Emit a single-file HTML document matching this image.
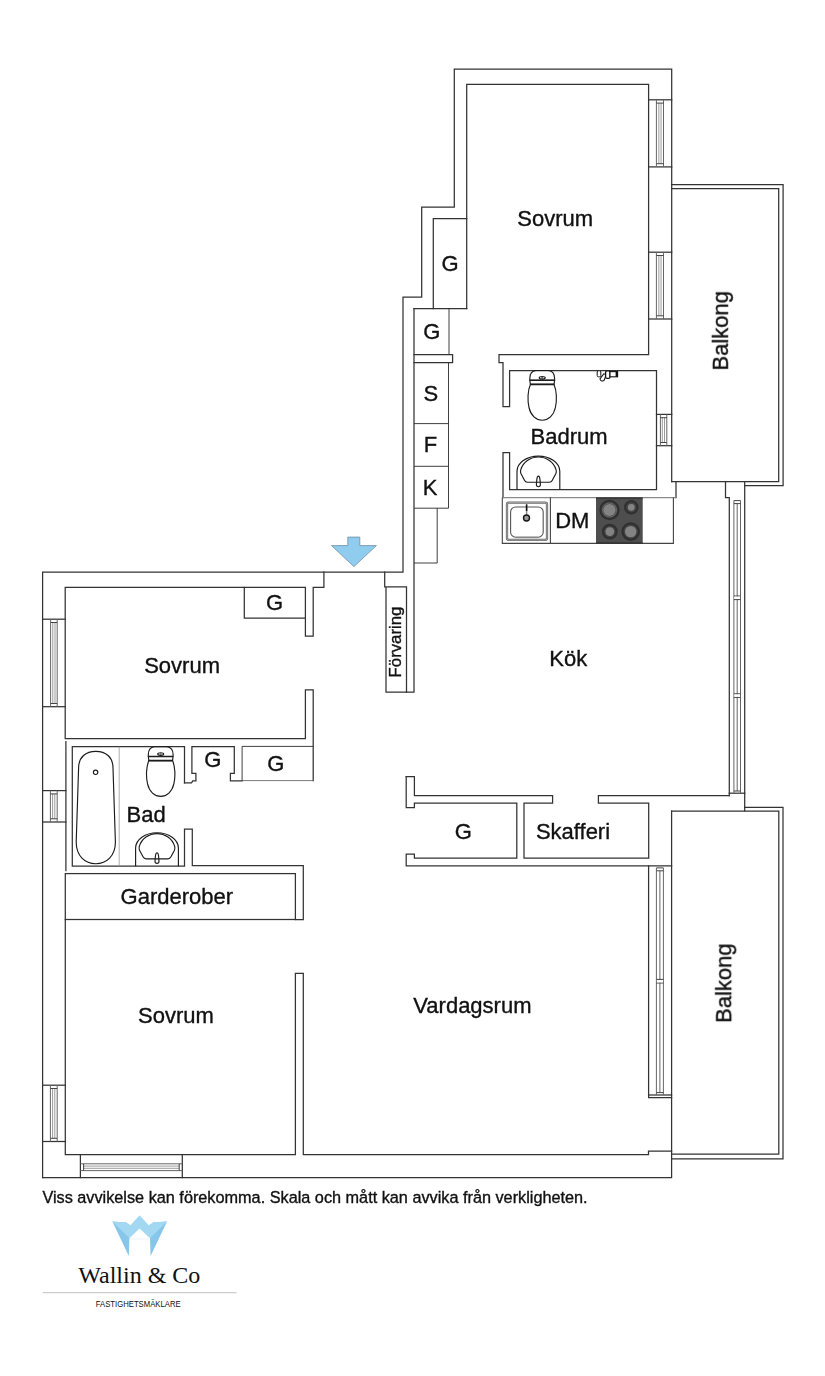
<!DOCTYPE html>
<html><head><meta charset="utf-8"><title>Planritning</title>
<style>
html,body{margin:0;padding:0;background:#fff;}
body{width:825px;height:1376px;overflow:hidden;font-family:"Liberation Sans",sans-serif;}
svg{display:block}
svg text{font-family:"Liberation Sans",sans-serif;fill:#111;stroke:#111;stroke-width:0.35px;}
.w{fill:none;stroke:#333;stroke-width:1.25;stroke-linejoin:miter;stroke-linecap:square}
.f{fill:none;stroke:#1c1c1c;stroke-width:1.15}
.n{fill:none;stroke:#2a2a2a;stroke-width:0.9}
.c1{fill:none;stroke:#8a8a8a;stroke-width:1.3}
.c2{fill:none;stroke:#444;stroke-width:1.1}
.g{fill:none;stroke:#333;stroke-width:0.9}
.t{fill:none;stroke:#666;stroke-width:0.7}
.gl{fill:none;stroke:#666;stroke-width:1}
.gl2{fill:none;stroke:#7a7a7a;stroke-width:0.75}
.gc{fill:none;stroke:#444;stroke-width:1}
.t2{fill:none;stroke:#999;stroke-width:0.8}
.t3{fill:none;stroke:#555;stroke-width:0.8}
</style></head><body>
<svg width="825" height="1376" viewBox="0 0 825 1376">
<rect x="0" y="0" width="825" height="1376" fill="#ffffff"/>
<path class="w" d="M42.6,1177.6 L42.6,572 L403,572 L403,297 L421.7,297 L421.7,207 L454.3,207 L454.3,69 L671.7,69 L671.7,481.7"/>
<path class="w" d="M42.6,1177.6 L671.6,1177.6 L671.6,811"/>
<path class="w" d="M671.7,184.6 L783.1,184.6 L783.1,485.7 L744.7,485.7"/>
<path class="w" d="M671.7,188.7 L778.7,188.7 L778.7,481.7 L671.7,481.7"/>
<path class="w" d="M676,481.7 L676,497.6"/>
<path class="w" d="M725.5,481.7 L725.5,497.6 L729.3,497.6 L729.3,795.5"/>
<path class="w" d="M744.7,481.7 L744.7,810.8"/>
<path class="w" d="M729.3,793.2 L744.7,793.2"/>
<path class="w" d="M744.7,807.3 L783,807.3 L783,1158.8 L671.6,1158.8"/>
<path class="w" d="M671.6,811 L778.8,811 L778.8,1154.1 L671.6,1154.1"/>
<path class="w" d="M466.7,308.7 L466.7,84.3 L648.6,84.3 L648.6,354.6 L499,354.6 L499,362.5 L503,362.5 L503,406.7 L509.6,406.7 L509.6,370.5 L656.5,370.5 L656.5,489.6 L509.6,489.6 L509.6,452.7 L503,452.7 L503,497.6"/>
<path class="w" d="M466.7,218.6 L433.3,218.6 L433.3,308.7"/>
<path class="w" d="M414,308.7 L466.7,308.7"/>
<path class="n" d="M449,308.7 L449,354.5"/>
<path class="w" d="M414,354.5 L452.6,354.5 L452.6,362.7 L414,362.7"/>
<path class="n" d="M448.5,362.7 L448.5,508.2"/>
<path class="n" d="M414,423.6 L448.5,423.6"/>
<path class="n" d="M414,466.3 L448.5,466.3"/>
<path class="n" d="M414,508.2 L448.5,508.2"/>
<path class="n" d="M437.2,508.2 L437.2,563 L414,563"/>
<path class="w" d="M414,308.7 L414,692 L406.5,692"/>
<path class="w" d="M384.7,572 L384.7,586.8 L406.5,586.8 L406.5,692 L386,692 L386,586.8"/>
<path class="w" d="M648.6,99.8 L671.7,99.8"/>
<path class="w" d="M648.6,166.9 L671.7,166.9"/>
<path class="gl" d="M656.4,99.8 L656.4,166.9"/>
<path class="gl" d="M663.5,99.8 L663.5,166.9"/>
<path class="gl2" d="M658.85,103.1 L658.85,163.7"/>
<path class="gl2" d="M661.05,103.1 L661.05,163.7"/>
<path class="gc" d="M656.4,103.1 L663.5,103.1"/>
<path class="gc" d="M656.4,163.7 L663.5,163.7"/>
<path class="w" d="M648.6,252.2 L671.7,252.2"/>
<path class="w" d="M648.6,319 L671.7,319"/>
<path class="gl" d="M656.4,252.2 L656.4,319"/>
<path class="gl" d="M663.5,252.2 L663.5,319"/>
<path class="gl2" d="M658.85,255.5 L658.85,315.8"/>
<path class="gl2" d="M661.05,255.5 L661.05,315.8"/>
<path class="gc" d="M656.4,255.5 L663.5,255.5"/>
<path class="gc" d="M656.4,315.8 L663.5,315.8"/>
<path class="w" d="M656.5,414.4 L671.7,414.4"/>
<path class="w" d="M656.5,445.7 L671.7,445.7"/>
<path class="gl" d="M660.4,414.4 L660.4,445.7"/>
<path class="gl" d="M666.8,414.4 L666.8,445.7"/>
<path class="gl2" d="M662.3,417.7 L662.3,442.5"/>
<path class="gl2" d="M664.5,417.7 L664.5,442.5"/>
<path class="gc" d="M660.4,417.7 L666.8,417.7"/>
<path class="gc" d="M660.4,442.5 L666.8,442.5"/>
<path class="c1" d="M503,497.6 L676,497.6"/>
<path class="c2" d="M502.3,497.6 L502.3,543.4 L673.4,543.4 L673.4,497.6"/>
<path class="c2" d="M550.4,497.6 L550.4,543.4"/>
<path class="gl" d="M733.9,500.6 L733.9,793.2"/>
<path class="gl" d="M740.5,500.6 L740.5,793.2"/>
<path class="gl" d="M737.2,503.6 L737.2,791"/>
<path class="gc" d="M733.9,503.6 L740.5,503.6"/>
<path class="gc" d="M733.9,791 L740.5,791"/>
<path class="gc" d="M733.9,596 L740.5,596"/>
<path class="gc" d="M733.9,599.6 L740.5,599.6"/>
<rect x="734.4" y="596.6" width="5.6" height="2.4" fill="#fff"/>
<path class="gc" d="M733.9,693.8 L740.5,693.8"/>
<path class="gc" d="M733.9,697.4 L740.5,697.4"/>
<rect x="734.4" y="694.4" width="5.6" height="2.4" fill="#fff"/>
<path class="gc" d="M733.9,500.6 L740.5,500.6"/>
<path class="w" d="M323.9,572 L323.9,587.3 L313.2,587.3 L313.2,636 L305.4,636 L305.4,587.3 L65.2,587.3 L65.2,738.7 L305.4,738.7 L305.4,689.9 L313.2,689.9 L313.2,780.6"/>
<path class="w" d="M244.3,587.3 L244.3,618.1 L305.4,618.1"/>
<path class="w" d="M42.6,619.2 L65.2,619.2"/>
<path class="w" d="M42.6,706.7 L65.2,706.7"/>
<path class="gl" d="M50.6,619.2 L50.6,706.7"/>
<path class="gl" d="M57.2,619.2 L57.2,706.7"/>
<path class="gl2" d="M52.8,622.5 L52.8,703.5"/>
<path class="gl2" d="M55,622.5 L55,703.5"/>
<path class="gc" d="M50.6,622.5 L57.2,622.5"/>
<path class="gc" d="M50.6,703.5 L57.2,703.5"/>
<path class="w" d="M65.9,741.5 L65.9,870.5"/>
<path class="w" d="M184.5,782.9 L184.5,746.7 L72.3,746.7 L72.3,866.2 L184.5,866.2 L184.5,829.2 L192.3,829.2 L192.3,865.7 L303.3,865.7 L303.3,919.5 L295.4,919.5"/>
<path class="t2" d="M119.2,746.7 L119.2,866.2"/>
<path class="w" d="M184.5,782.9 L191.5,782.9 L192.8,780.8 L195.9,780.8 L195.9,773.3 L191.9,773.3 L191.9,746.7 L234.3,746.7 L234.3,773.3 L230.4,773.3 L230.4,780.9 L242.1,780.9"/>
<path class="n" d="M242.1,780.9 L242.1,746.4 L313.2,746.4"/>
<path class="t3" d="M242.1,780.6 L313.2,780.6"/>
<path class="w" d="M42.6,790.6 L65.9,790.6"/>
<path class="w" d="M42.6,822 L65.9,822"/>
<path class="gl" d="M50.4,790.6 L50.4,822"/>
<path class="gl" d="M57.2,790.6 L57.2,822"/>
<path class="gl2" d="M52.6,793.9 L52.6,818.8"/>
<path class="gl2" d="M54.8,793.9 L54.8,818.8"/>
<path class="gc" d="M50.4,793.9 L57.2,793.9"/>
<path class="gc" d="M50.4,818.8 L57.2,818.8"/>
<path class="f" d="M78.6,768 C78.6,757 86,751.3 95.8,751.3 C105.6,751.3 113,757 113,768 L115.4,842 C115.4,856 106.5,863.7 95.8,863.7 C85,863.7 76.2,856 76.2,842 Z"/>
<circle class="f" cx="95.6" cy="772.3" r="2.2"/>
<g transform="translate(160.7,746.7)"><path class="f" d="M-12.4,9.8 L-12.4,8 C-12.4,3.6 -10,0.4 -6.3,0 L6.3,0 C10,0.4 12.4,3.6 12.4,8 L12.4,9.8 Z"/><path class="f" d="M-12.4,9.8 L-11.8,13.9 L11.8,13.9 L12.4,9.8"/><path d="M-12.2,9.8 L12.2,9.8 M-11.8,13.9 L11.8,13.9" stroke="#1c1c1c" stroke-width="1.5" fill="none"/><path class="f" d="M-11.8,13.9 C-14.6,20 -14.8,30 -13.2,37 C-11.5,45 -6,49.7 0,49.7 C6,49.7 11.5,45 13.2,37 C14.8,30 14.6,20 11.8,13.9 Z"/><ellipse class="f" cx="0" cy="7.3" rx="3" ry="1.3"/><ellipse cx="0" cy="7.3" rx="1.1" ry="0.6" fill="#222"/></g>
<g transform="translate(157,866.2)"><path class="f" d="M-21.4,0 L-21.4,-18.2 A21.4 15.3 0 0 1 21.4,-18.2 L21.4,0"/><path class="f" d="M-11,-7.4 L11,-7.4 C12.6,-7.4 13.2,-8 13.8,-9.2 L17.5,-16 C18.1,-17.4 18,-18.6 17.7,-19.8 C15.4,-27.6 8,-32.6 0,-32.6 C-8,-32.6 -15.4,-27.6 -17.7,-19.8 C-18,-18.6 -18.1,-17.4 -17.5,-16 L-13.8,-9.2 C-13.2,-8 -12.6,-7.4 -11,-7.4 Z"/><path class="f" d="M0,-13.5 C1,-13.5 1.4,-12 1.6,-10 L2,-5 C2,-3.6 1.2,-2.9 0,-2.9 C-1.2,-2.9 -2,-3.6 -2,-5 L-1.6,-10 C-1.4,-12 -1,-13.5 0,-13.5 Z" fill="#fff"/></g>
<rect class="w" x="65.3" y="873.6" width="230.1" height="45.9"/>
<path class="w" d="M65.3,919.5 L65.3,1154.6 L295.4,1154.6 L295.4,973.4 L303.3,973.4 L303.3,1154.6 L648.5,1154.6 L648.5,1151.2 L671.6,1151.2"/>
<path class="w" d="M42.6,1085.2 L65.3,1085.2"/>
<path class="w" d="M42.6,1141.5 L65.3,1141.5"/>
<path class="gl" d="M50.4,1085.2 L50.4,1141.5"/>
<path class="gl" d="M57.2,1085.2 L57.2,1141.5"/>
<path class="gl2" d="M52.6,1088.5 L52.6,1138.3"/>
<path class="gl2" d="M54.8,1088.5 L54.8,1138.3"/>
<path class="gc" d="M50.4,1088.5 L57.2,1088.5"/>
<path class="gc" d="M50.4,1138.3 L57.2,1138.3"/>
<path class="w" d="M80.4,1154.6 L80.4,1177.6"/>
<path class="w" d="M182.3,1154.6 L182.3,1177.6"/>
<path class="gl" d="M80.4,1163.8 L182.3,1163.8"/>
<path class="gl" d="M80.4,1170.6 L182.3,1170.6"/>
<path class="gl2" d="M83.6,1166.1 L179.2,1166.1"/>
<path class="gl2" d="M83.6,1168.3 L179.2,1168.3"/>
<path class="gc" d="M83.6,1163.8 L83.6,1170.6"/>
<path class="gc" d="M179.2,1163.8 L179.2,1170.6"/>
<path class="w" d="M406.2,776.6 L414.4,776.6 L414.4,795.6 L552.6,795.6 L552.6,803.2 L524,803.2 L524,858.1 L648.7,858.1 L648.7,803.2 L598.4,803.2 L598.4,795.6 L729.3,795.6"/>
<path class="w" d="M406.2,776.6 L406.2,807.7 L414.4,807.7 L414.4,803.2 L516.8,803.2 L516.8,858.1 L414.4,858.1 L414.4,854.2 L406.2,854.2 L406.2,865.9 L671.6,865.9"/>
<path class="w" d="M648.6,865.9 L648.6,1097.6 L671.6,1097.6"/>
<path class="w" d="M648.6,1095 L671.6,1095"/>
<path class="gl" d="M656.4,867.9 L656.4,1095"/>
<path class="gl" d="M663.4,867.9 L663.4,1095"/>
<path class="gl" d="M659.9,870.8 L659.9,1092.6"/>
<path class="gc" d="M656.4,870.8 L663.4,870.8"/>
<path class="gc" d="M656.4,1092.6 L663.4,1092.6"/>
<path class="gc" d="M656.4,979.4 L663.4,979.4"/>
<path class="gc" d="M656.4,983 L663.4,983"/>
<rect x="656.9" y="980" width="6" height="2.4" fill="#fff"/>
<path class="gc" d="M656.4,867.9 L663.4,867.9"/>
<g transform="translate(542.2,370.5)"><path class="f" d="M-12.4,9.8 L-12.4,8 C-12.4,3.6 -10,0.4 -6.3,0 L6.3,0 C10,0.4 12.4,3.6 12.4,8 L12.4,9.8 Z"/><path class="f" d="M-12.4,9.8 L-11.8,13.9 L11.8,13.9 L12.4,9.8"/><path d="M-12.2,9.8 L12.2,9.8 M-11.8,13.9 L11.8,13.9" stroke="#1c1c1c" stroke-width="1.5" fill="none"/><path class="f" d="M-11.8,13.9 C-14.6,20 -14.8,30 -13.2,37 C-11.5,45 -6,49.7 0,49.7 C6,49.7 11.5,45 13.2,37 C14.8,30 14.6,20 11.8,13.9 Z"/><ellipse class="f" cx="0" cy="7.3" rx="3" ry="1.3"/><ellipse cx="0" cy="7.3" rx="1.1" ry="0.6" fill="#222"/></g>
<g transform="translate(538.4,489.6)"><path class="f" d="M-21.4,0 L-21.4,-18.2 A21.4 15.3 0 0 1 21.4,-18.2 L21.4,0"/><path class="f" d="M-11,-7.4 L11,-7.4 C12.6,-7.4 13.2,-8 13.8,-9.2 L17.5,-16 C18.1,-17.4 18,-18.6 17.7,-19.8 C15.4,-27.6 8,-32.6 0,-32.6 C-8,-32.6 -15.4,-27.6 -17.7,-19.8 C-18,-18.6 -18.1,-17.4 -17.5,-16 L-13.8,-9.2 C-13.2,-8 -12.6,-7.4 -11,-7.4 Z"/><path class="f" d="M0,-13.5 C1,-13.5 1.4,-12 1.6,-10 L2,-5 C2,-3.6 1.2,-2.9 0,-2.9 C-1.2,-2.9 -2,-3.6 -2,-5 L-1.6,-10 C-1.4,-12 -1,-13.5 0,-13.5 Z" fill="#fff"/></g>
<g><rect x="597.2" y="370.8" width="3.6" height="6" rx="1.2" fill="#fff" stroke="#111" stroke-width="1"/><path d="M603.8,373.8 L600,379 A2.4 2.4 0 0 0 604.2,380.2 L606.2,374.6 Z" fill="#fff" stroke="#111" stroke-width="1.1"/><rect x="605.6" y="370.8" width="4.4" height="7.6" rx="1.5" fill="#fff" stroke="#111" stroke-width="1.3"/><rect x="610" y="371.6" width="7.6" height="5.2" fill="#fff" stroke="#111" stroke-width="1.1"/><rect x="615.6" y="371.6" width="2.2" height="5.2" fill="#111"/></g>
<rect x="507" y="502.6" width="40" height="37.3" rx="1.6" fill="#fff" stroke="#6a6a6a" stroke-width="2.3"/>
<rect x="507" y="502.6" width="40" height="37.3" rx="1.6" fill="none" stroke="#bdbdbd" stroke-width="0.7"/>
<rect x="510.6" y="507" width="32.6" height="30.2" rx="5" fill="#fff" stroke="#555" stroke-width="1.1"/>
<path d="M516,537.4 L538,537.4" stroke="#888" stroke-width="1.4" fill="none"/>
<path d="M526.6,504.4 L526.6,517.5" stroke="#8a8a8a" stroke-width="1.5" fill="none"/>
<path d="M526.6,504.4 L526.6,511" stroke="#111" stroke-width="1.5" fill="none"/>
<circle cx="526.5" cy="518" r="3" fill="#9a9a9a" stroke="#151515" stroke-width="1.4"/>
<rect x="596" y="497.6" width="46.7" height="45.8" fill="#4e4e4e"/>
<path d="M596,498 L642.7,498 M596,543 L642.7,543" stroke="#262626" stroke-width="1.2"/>
<circle cx="609.5" cy="510" r="9.1" fill="#454545" stroke="#303030" stroke-width="2.2"/>
<circle cx="609.5" cy="510" r="6.1" fill="#838383"/>
<circle cx="609.5" cy="510" r="7.0" fill="none" stroke="#8a8a8a" stroke-width="0.5"/>
<circle cx="631.3" cy="507.3" r="6.199999999999999" fill="#454545" stroke="#303030" stroke-width="2.2"/>
<circle cx="631.3" cy="507.3" r="3.4" fill="#838383"/>
<circle cx="609.8" cy="531.6" r="6.800000000000001" fill="#454545" stroke="#303030" stroke-width="2.2"/>
<circle cx="609.8" cy="531.6" r="4.4" fill="#838383"/>
<circle cx="630.7" cy="531.6" r="8.200000000000001" fill="#454545" stroke="#303030" stroke-width="2.2"/>
<circle cx="630.7" cy="531.6" r="5.7" fill="#838383"/>
<path d="M347.8,537.1 L359.8,537.1 L359.8,545.6 L376.4,545.6 L353.9,566.6 L331.5,545.6 L347.8,545.6 Z" fill="#8fccee" stroke="#6f8ea6" stroke-width="0.8"/>
<g style="opacity:0.999">
<text x="517.3" y="226" font-size="22" text-anchor="start" >Sovrum</text>
<text x="450" y="270.8" font-size="22" text-anchor="middle" >G</text>
<text x="431.7" y="339.2" font-size="22" text-anchor="middle" >G</text>
<text x="430.9" y="400.8" font-size="22" text-anchor="middle" >S</text>
<text x="430.5" y="452" font-size="22" text-anchor="middle" >F</text>
<text x="430" y="494.5" font-size="22" text-anchor="middle" >K</text>
<text x="530.6" y="443.8" font-size="22" text-anchor="start" >Badrum</text>
<text x="555.2" y="528.2" font-size="22" text-anchor="start" >DM</text>
<text x="549.3" y="665.6" font-size="22" text-anchor="start" >Kök</text>
<text x="274.5" y="610.2" font-size="22" text-anchor="middle" >G</text>
<text x="144.2" y="673.3" font-size="22" text-anchor="start" >Sovrum</text>
<text x="212.7" y="767.4" font-size="22" text-anchor="middle" >G</text>
<text x="275.7" y="771.3" font-size="22" text-anchor="middle" >G</text>
<text x="126.5" y="822" font-size="22" text-anchor="start" >Bad</text>
<text x="463.3" y="839.4" font-size="22" text-anchor="middle" >G</text>
<text x="535.9" y="839.3" font-size="22" text-anchor="start" >Skafferi</text>
<text x="120.6" y="903.8" font-size="22" text-anchor="start" >Garderober</text>
<text x="138.1" y="1022.5" font-size="22" text-anchor="start" >Sovrum</text>
<text x="413.3" y="1012.7" font-size="22" text-anchor="start" >Vardagsrum</text>
<text transform="translate(727.9,330.8) rotate(-90)" font-size="22" text-anchor="middle">Balkong</text>
<text transform="translate(731.2,983.2) rotate(-90)" font-size="22" text-anchor="middle">Balkong</text>
<text transform="translate(401.4,642) rotate(-90)" font-size="16.8" text-anchor="middle">Förvaring</text>
<text x="42.4" y="1203.2" font-size="16.25" text-anchor="start" >Viss avvikelse kan förekomma. Skala och mått kan avvika från verkligheten.</text>
</g>
<g><path d="M112.4,1221.4 L126.5,1222.6 L129.4,1238.3 L128.8,1255.9 Z" fill="#86c6ea"/><path d="M167,1221.4 L152.8,1222.6 L150,1238.3 L150.6,1255.9 Z" fill="#86c6ea"/><path d="M112.4,1221.4 L126.5,1222.6 L130.5,1225.2 L139.6,1215.3 L148.8,1225.2 L152.8,1222.6 L167,1221.4 L150,1238.3 L139.6,1228.6 L129.4,1238.3 Z" fill="#a3d8f3"/><path d="M130.2,1239 L149.2,1239" stroke="#dfe8ee" stroke-width="0.6"/></g>
<g style="opacity:0.999">
<text x="139.3" y="1282.9" font-size="24" text-anchor="middle" style="font-family:'Liberation Serif',serif;stroke:none" fill="#1a1a1a">Wallin &amp; Co</text>
<path d="M42.7,1292.7 L236.5,1292.7" stroke="#cdcdcd" stroke-width="1.3"/>
<text x="138.2" y="1306.8" font-size="8.6" text-anchor="middle" fill="#5c5c5c" style="stroke:none" textLength="84.8" lengthAdjust="spacingAndGlyphs">FASTIGHETSMÄKLARE</text>
</g>
</svg>
</body></html>
